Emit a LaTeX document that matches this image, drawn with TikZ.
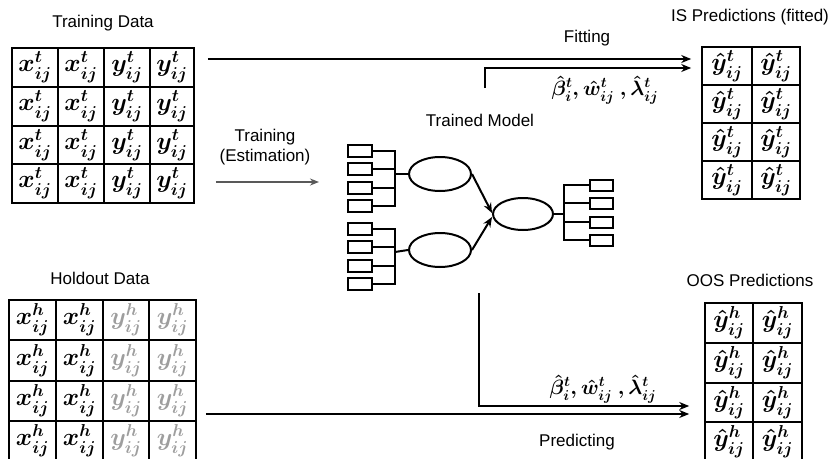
\documentclass[tikz,border=0pt]{standalone}
\usepackage{fontspec}
\setmainfont{Liberation Sans}
\usetikzlibrary{shapes.geometric,arrows.meta}
\begin{document}
\begin{tikzpicture}[x=1pt,y=-1pt,
  lbl/.style={font=\fontsize{17}{20}\selectfont, inner sep=0pt, align=center},
  cell/.style={font=\fontsize{25}{27}\selectfont\boldmath, inner sep=0pt},
  ghost/.style={cell, text=black!38},
  grid/.style={line width=1.4pt},
  tab/.style={draw, line width=1.6pt, inner sep=0pt},
  flow/.style={line width=2.5pt, -{Stealth[length=10pt,width=8pt]}},
  est/.style={line width=2.6pt, draw=black!65, -{Stealth[length=9pt,width=7pt]}},
  leaf/.style={draw, line width=2pt, minimum width=24pt, minimum height=12pt, inner sep=0pt},
  lat/.style={draw, ellipse, line width=2pt, minimum width=62pt, minimum height=34pt, inner sep=0pt},
  link/.style={line width=2pt},
  par/.style={font=\fontsize{20}{22}\selectfont\boldmath, inner sep=0pt}
]
\useasboundingbox (0,0) rectangle (834,458);
\clip (0,0) rectangle (834,458);

% ---------- Training data ----------
\node[lbl] (trtitle) at (103,23) {Training Data};
\node[tab, minimum width=182pt, minimum height=155pt] (trtab) at (103,125.5) {};
\foreach \x in {58,104,150} \draw[grid] (\x,48) -- (\x,203);
\foreach \y in {87,126,164} \draw[grid] (12,\y) -- (194,\y);
\foreach \r [count=\i] in {67.5,106.5,145,183.5}{
  \node[cell] (tr-\i-1) at (35,\r) {$x^t_{ij}$};
  \node[cell] (tr-\i-2) at (81,\r) {$x^t_{ij}$};
  \node[cell] (tr-\i-3) at (127,\r) {$y^t_{ij}$};
  \node[cell] (tr-\i-4) at (172,\r) {$y^t_{ij}$};
}

% ---------- Holdout data ----------
\node[lbl] (hotitle) at (100,278) {Holdout Data};
\node[tab, minimum width=187pt, minimum height=161pt] (hotab) at (102.5,380.5) {};
\foreach \x in {56,103,149} \draw[grid] (\x,300) -- (\x,461);
\foreach \y in {340,381,421} \draw[grid] (9,\y) -- (196,\y);
\foreach \r [count=\i] in {320,360.5,401,441}{
  \node[cell] (ho-\i-1) at (32.5,\r) {$x^h_{ij}$};
  \node[cell] (ho-\i-2) at (79.5,\r) {$x^h_{ij}$};
  \node[ghost] (ho-\i-3) at (126,\r) {$y^h_{ij}$};
  \node[ghost] (ho-\i-4) at (172.5,\r) {$y^h_{ij}$};
}

% ---------- IS predictions ----------
\node[lbl] (istitle) at (750,17) {IS Predictions (fitted)};
\node[tab, minimum width=98pt, minimum height=152pt] (istab) at (751,123) {};
\draw[grid] (752,47) -- (752,199);
\foreach \y in {85,123,161} \draw[grid] (702,\y) -- (800,\y);
\foreach \r [count=\i] in {66,104,142,180}{
  \node[cell] (is-\i-1) at (727,\r) {$\hat{y}^t_{ij}$};
  \node[cell] (is-\i-2) at (776,\r) {$\hat{y}^t_{ij}$};
}

% ---------- OOS predictions ----------
\node[lbl] (oostitle) at (750,280) {OOS Predictions};
\node[tab, minimum width=97pt, minimum height=159pt] (oostab) at (753.5,382.5) {};
\draw[grid] (753,303) -- (753,462);
\foreach \y in {343,383,422} \draw[grid] (705,\y) -- (802,\y);
\foreach \r [count=\i] in {323,363,402.5,442}{
  \node[cell] (oos-\i-1) at (729,\r) {$\hat{y}^h_{ij}$};
  \node[cell] (oos-\i-2) at (777.5,\r) {$\hat{y}^h_{ij}$};
}

% ---------- Trained model ----------
\node[lbl] (tmtitle) at (480,120) {Trained Model};
\foreach \y [count=\i] in {151,169,188,206} \node[leaf] (La\i) at (360,\y) {};
\foreach \y [count=\i] in {229,247,266,284} \node[leaf] (Lb\i) at (360,\y) {};
\foreach \y [count=\i] in {185,203,222,240} \node[leaf, minimum width=23pt, minimum height=11pt] (R\i) at (601.5,\y) {};
\node[lat] (e1) at (440,174) {};
\node[lat] (e2) at (440,250) {};
\node[lat, minimum width=60pt, minimum height=32pt] (e3) at (523,214) {};
\coordinate (ba) at (395,174);
\coordinate (bb) at (395,252);
\coordinate (bc) at (564,214);
\draw[link] (La1.east) -| (ba) |- (La4.east);
\draw[link] (La2.east) -- (La2.east -| ba);
\draw[link] (La3.east) -- (La3.east -| ba);
\draw[link] (ba) -- (e1.west);
\draw[link] (Lb1.east) -| (bb) |- (Lb4.east);
\draw[link] (Lb2.east) -- (Lb2.east -| bb);
\draw[link] (Lb3.east) -- (Lb3.east -| bb);
\draw[link] (bb) -- (e2.west);
\draw[link] (e3.east) -- (bc);
\draw[link] (R1.west) -| (bc) |- (R4.west);
\draw[link] (R2.west) -- (R2.west -| bc);
\draw[link] (R3.west) -- (R3.west -| bc);
\draw[link, -{Stealth[length=10pt,width=8pt]}] (e1.east) -- ([yshift=1pt]e3.west);
\draw[link, -{Stealth[length=10pt,width=8pt]}] (e2.east) -- ([yshift=-3pt]e3.west);

% ---------- Training arrow ----------
\node[lbl] (trlabel) at (265,147) {Training\\(Estimation)};
\coordinate (estEnd) at (319,182);
\draw[est] ([xshift=21pt]trtab.east |- estEnd) -- (estEnd);

% ---------- Fitting ----------
\node[lbl] (fitlabel) at (587,38) {Fitting};
\draw[flow] ([xshift=13pt]trtab.east |- 0,59) -- ([xshift=-10pt]istab.west |- 0,59);
\coordinate (fitParam) at (485,88);
\draw[flow] (fitParam) |- ([xshift=-10pt]istab.west |- 0,68);
\node[par] (fitpar) at (605,90) {$\hat{\beta}^t_i, \hat{w}^t_{ij}\ , \hat{\lambda}^t_{ij}$};

% ---------- Predicting ----------
\coordinate (predParam) at (479,293);
\draw[flow] (predParam) |- ([xshift=-15pt]oostab.west |- 0,406);
\draw[flow] ([xshift=9pt]hotab.east |- 0,414) -- ([xshift=-15pt]oostab.west |- 0,414);
\node[par] (predpar) at (603,389) {$\hat{\beta}^t_i, \hat{w}^t_{ij}\ , \hat{\lambda}^t_{ij}$};
\node[lbl] (predlabel) at (577,442) {Predicting};
\end{tikzpicture}
\end{document}
